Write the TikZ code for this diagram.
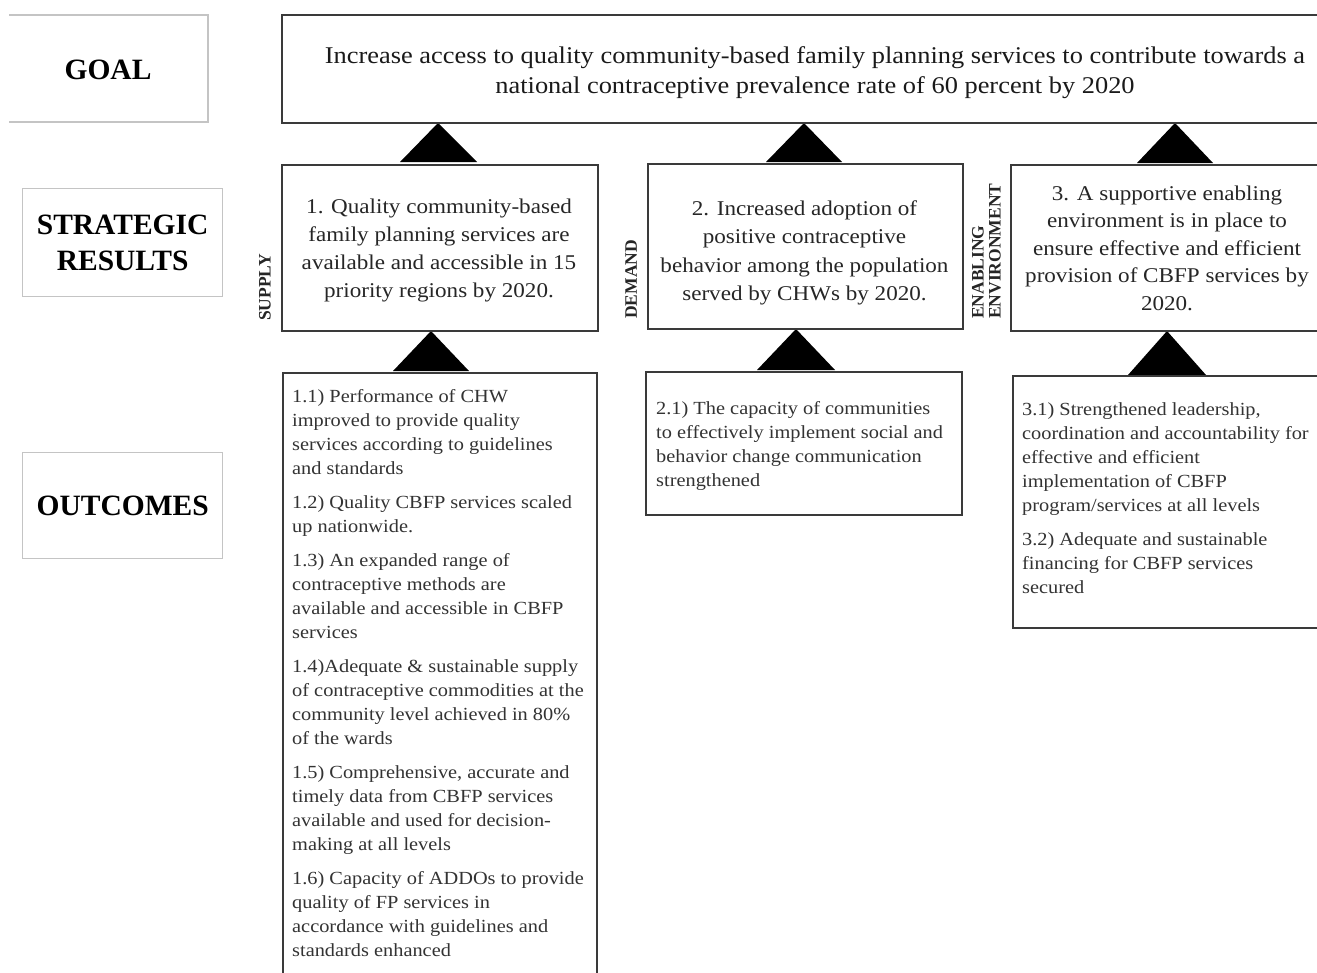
\documentclass[tikz,border=0pt]{standalone}
\usepackage{fontspec}
\setmainfont{Liberation Serif}
\newfontfamily\widefont{Liberation Serif}[FakeStretch=1.1]
\definecolor{boxgray}{HTML}{3A3A3A}
\definecolor{lblgray}{HTML}{C4C4C4}
\definecolor{txtA}{HTML}{1A1A1A}
\definecolor{txtB}{HTML}{262626}
\definecolor{txtC}{HTML}{333333}
\begin{document}
\begin{tikzpicture}[x=1pt,y=-1pt,
  mainbox/.style={draw=boxgray, line width=2.2pt, inner sep=0pt, anchor=north west},
  lblline/.style={draw=lblgray, line width=1.3pt},
  lbltext/.style={font=\bfseries\fontsize{29.5}{36}\selectfont, align=center, text=black},
  tri/.style={fill=black},
  goaltext/.style={font=\widefont\fontsize{24}{30}\selectfont, align=center, anchor=north, inner sep=0pt, text=txtA},
  srtext/.style={font=\widefont\fontsize{21}{28}\selectfont, align=center, anchor=north, inner sep=0pt, text=txtB},
  octext/.style={font=\widefont\fontsize{18.5}{24}\selectfont, align=left, anchor=north west, inner sep=0pt, text=txtC},
  vlabel/.style={font=\bfseries\fontsize{17.5}{17}\selectfont, rotate=90, anchor=west, align=left, inner sep=0pt, text=txtB}
]
\path[use as bounding box] (0,0) rectangle (1317,972);
\clip (0,0) rectangle (1317,972);
\fill[white] (0,0) rectangle (1317,972);

% left labels
\draw[lblline] (9,15) -- (208,15) -- (208,122) -- (9,122);
\node[lbltext] (goallbl) at (108,70) {GOAL};
\node[lblline, minimum width=200, minimum height=108, anchor=north west, inner sep=0pt] (srbox) at (22,188) {};
\node[lbltext] (srlbl) at (srbox.center) {STRATEGIC\\RESULTS};
\node[lblline, minimum width=200, minimum height=106, anchor=north west, inner sep=0pt] (ocbox) at (22,452) {};
\node[lbltext] (oclbl) at (ocbox.center) {OUTCOMES};

% triangles
\fill[tri] (438,123) -- (400,162) -- (477,162) -- cycle;
\fill[tri] (804,123) -- (766,162) -- (842,162) -- cycle;
\fill[tri] (1175,123) -- (1137,163) -- (1213,163) -- cycle;
\fill[tri] (431,331) -- (393,371) -- (469,371) -- cycle;
\fill[tri] (796,329) -- (757,370) -- (835,370) -- cycle;
\fill[tri] (1167,331) -- (1128,375) -- (1206,375) -- cycle;

% main boxes
\node[mainbox, minimum width=1049, minimum height=108] (goal) at (281,14) {};
\node[mainbox, minimum width=316, minimum height=166] (sr1) at (281,164) {};
\node[mainbox, minimum width=315, minimum height=165] (sr2) at (647,163) {};
\node[mainbox, minimum width=315, minimum height=166] (sr3) at (1010,164) {};
\node[mainbox, minimum width=314, minimum height=620] (oc1) at (282,372) {};
\node[mainbox, minimum width=316, minimum height=143] (oc2) at (645,371) {};
\node[mainbox, minimum width=318, minimum height=252] (oc3) at (1012,375) {};

% texts
\node[goaltext] (goalt) at (815,42) {\strut Increase access to quality community-based family planning services to contribute towards a\\national contraceptive prevalence rate of 60 percent by 2020};

\node[srtext] (sr1t) at (439,193.4) {\strut 1. Quality community-based\\family planning services are\\available and accessible in 15\\priority regions by 2020.};
\node[srtext, font=\widefont\fontsize{21}{28.5}\selectfont] (sr2t) at (804.5,195) {\strut 2. Increased adoption of\\positive contraceptive\\behavior among the population\\served by CHWs by 2020.};
\node[srtext, font=\widefont\fontsize{21}{27.5}\selectfont] (sr3t) at (1167,180.7) {\strut 3. A supportive enabling\\environment is in place to\\ensure effective and efficient\\provision of CBFP services by\\2020.};

\node[vlabel] (supply) at (265,321) {SUPPLY};
\node[vlabel] (demand) at (631,319) {DEMAND};
\node[vlabel] (enabling) at (986.5,319) {ENABLING\\ENVIRONMENT};

\node[octext] (oc1t) at (292,385.2) {\strut 1.1) Performance of CHW\\improved to provide quality\\services according to guidelines\\and standards\\[10pt]
1.2) Quality CBFP services scaled\\up nationwide.\\[10pt]
1.3) An expanded range of\\contraceptive methods are\\available and accessible in CBFP\\services\\[10pt]
1.4)Adequate \& sustainable supply\\of contraceptive commodities at the\\community level achieved in 80\%\\of the wards\\[10pt]
1.5) Comprehensive, accurate and\\timely data from CBFP services\\available and used for decision-\\making at all levels\\[10pt]
1.6) Capacity of ADDOs to provide\\quality of FP services in\\accordance with guidelines and\\standards enhanced};

\node[octext] (oc2t) at (656,397.2) {\strut 2.1) The capacity of communities\\to effectively implement social and\\behavior change communication\\strengthened};

\node[octext] (oc3t) at (1022,398.2) {\strut 3.1) Strengthened leadership,\\coordination and accountability for\\effective and efficient\\implementation of CBFP\\program/services at all levels\\[10pt]
3.2) Adequate and sustainable\\financing for CBFP services\\secured};
\end{tikzpicture}
\end{document}
